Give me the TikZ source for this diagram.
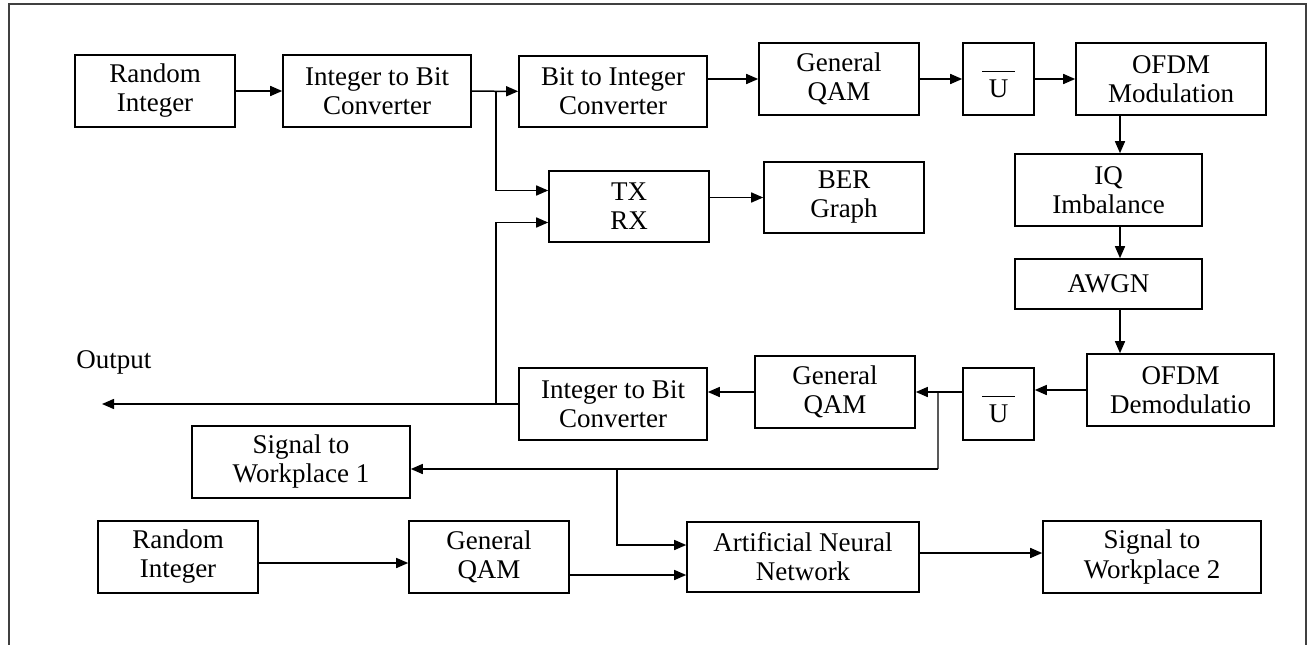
\documentclass[tikz,border=0pt]{standalone}
\usepackage{fontspec}
\setmainfont{Liberation Serif}
\usetikzlibrary{calc, arrows.meta, positioning}

\tikzset{
  blk/.style={draw, line width=1.6pt, align=center, inner sep=0pt,
    minimum width=160pt, minimum height=72pt},
  ubar/.style={align=center, inner sep=0pt},
  wire/.style={line width=1.5pt, -{Triangle[length=12pt, width=10pt]}},
  plain/.style={line width=1.5pt}
}

\begin{document}
\begin{tikzpicture}[x=1pt, y=-1pt, font=\fontsize{27}{29}\selectfont]
      \useasboundingbox (0,0) rectangle (1309,645);

      % --- Outer frame ---
      \draw[line width=2pt, black!75] (9,645) -- (9,4) -- (1306,4) -- (1306,645);

      % --- Transmitter chain ---
      \node[blk] (ri1) at (155,91) {Random\\Integer};
      \node[blk, minimum width=188pt] (ib1) at (377,91) {Integer to Bit\\Converter};
      \node[blk, minimum width=188pt, minimum height=71pt] (bi) at (613,91.5) {Bit to Integer\\Converter};
      \node[blk] (qam1) at (839,79) {General\\QAM};
      \node[blk, minimum width=71pt] (u1) at (998.5,79) {};
      \node[ubar] (u1t) at (998.5,84) {\rule{33pt}{1.4pt}\\[-4pt]U};
      \node[blk, minimum width=190pt] (ofm) at (1171,79) {OFDM\\Modulation};

      % --- Channel ---
      \node[blk, minimum width=187pt] (iq) at (1108.5,190) {IQ\\Imbalance};
      \node[blk, minimum width=187pt, minimum height=50pt] (awgn) at (1108.5,284) {AWGN};

      % --- Receiver chain ---
      \node[blk, minimum width=187pt] (ofd) at (1180.5,390) {OFDM\\Demodulatio};
      \node[blk, minimum width=71pt] (u2) at (998.5,404) {};
      \node[ubar] (u2t) at (998.5,409) {\rule{33pt}{1.4pt}\\[-4pt]U};
      \node[blk] (qam2) at (835,392) {General\\QAM};
      \node[blk, minimum width=188pt] (ib2) at (613,404) {Integer to Bit\\Converter};

      % --- Error rate ---
      \node[blk, minimum height=71pt] (txrx) at (629,206.5) {TX\\RX};
      \node[blk, minimum height=71pt] (ber) at (844,197.5) {BER\\Graph};

      % --- Neural network part ---
      \node[blk, minimum width=218pt] (sw1) at (301,462) {Signal to\\Workplace 1};
      \node[blk] (ri2) at (178,557) {Random\\Integer};
      \node[blk] (qam3) at (489,557) {General\\QAM};
      \node[blk, minimum width=232pt, minimum height=70pt] (ann) at (803,557) {Artificial Neural\\Network};
      \node[blk, minimum width=218pt] (sw2) at (1152,557) {Signal to\\Workplace 2};

      \node (outlbl) at (114,362) {Output};

      % --- Junctions ---
      \coordinate (j1) at (496,91);
      \coordinate (j2) at (938,393);
      \coordinate (j3) at (617,469);
      \coordinate (cx) at (1120,0);
      \coordinate (out) at (102,402);

      % --- Connectors, top row ---
      \draw[wire] (ri1) -- (ib1);
      \draw[wire] (ib1) -- (bi);
      \draw[wire] (j1) |- ($(txrx.west)+(0,-16)$);
      \draw[wire] (bi.east |- qam1.west) -- (qam1.west);
      \draw[wire] (qam1) -- (u1);
      \draw[wire] (u1) -- (ofm);

      % --- Down the right side ---
      \draw[wire] (ofm.south -| cx) -- (iq.north -| cx);
      \draw[wire] (iq.south -| cx) -- (awgn.north -| cx);
      \draw[wire] (awgn.south -| cx) -- (ofd.north -| cx);

      % --- Bottom row, right to left ---
      \draw[wire] (ofd.west) -- (u2.east |- ofd.west);
      \draw[wire] (u2.west |- qam2.east) -- (qam2.east);
      \draw[wire] (qam2.west) -- (ib2.east |- qam2.west);
      \draw[wire] (ib2.west) -- (ib2.west -| out);
      \draw[wire] (ib2.west -| j1) |- ($(txrx.west)+(0,16)$);
      \draw[wire] (txrx.east |- ber.west) -- (ber.west);

      % --- Feed to the network ---
      \draw[plain, black!65] (j2) -- (j2 |- j3);
      \draw[wire] (j2 |- j3) -- (sw1.east |- j3);
      \draw[wire] (j3) |- ($(ann.west)+(0,-12)$);
      \draw[wire] ($(ri2.east)+(0,6)$) -- ($(qam3.west)+(0,6)$);
      \draw[wire] ($(qam3.east)+(0,18)$) -- ($(ann.west)+(0,18)$);
      \draw[wire] ($(ann.east)+(0,-4)$) -- ($(sw2.west)+(0,-4)$);
\end{tikzpicture}
\end{document}
